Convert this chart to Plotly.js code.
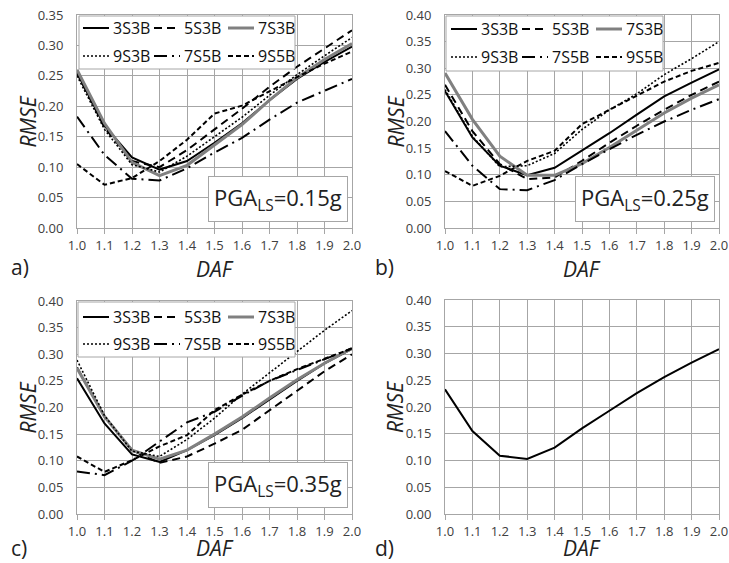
<!DOCTYPE html>
<html>
<head>
<meta charset="utf-8">
<script src="https://cdn.plot.ly/plotly-3.0.1.min.js"></script>
<style>html,body{margin:0;padding:0;background:#fff;}#chart{width:729px;height:563px;}</style>
</head>
<body>
<div id="chart"></div>
<script>
// ---------------- DATA ----------------
const daf = [1.0, 1.1, 1.2, 1.3, 1.4, 1.5, 1.6, 1.7, 1.8, 1.9, 2.0];
const xTickLabels = ['1.0','1.1','1.2','1.3','1.4','1.5','1.6','1.7','1.8','1.9','2.0'];
const seriesNames = ['3S3B', '5S3B', '7S3B', '9S3B', '7S5B', '9S5B'];
const panelLabels = ['a)', 'b)', 'c)', 'd)'];
const pgaLabels = ['PGA<sub>LS</sub>=0.15g', 'PGA<sub>LS</sub>=0.25g', 'PGA<sub>LS</sub>=0.35g'];

// a) PGA_LS = 0.15g
const a_3S3B = [0.255, 0.168, 0.116, 0.096, 0.110, 0.140, 0.172, 0.210, 0.245, 0.273, 0.298];
const a_5S3B = [0.255, 0.165, 0.110, 0.100, 0.128, 0.162, 0.196, 0.232, 0.265, 0.295, 0.325];
const a_7S3B = [0.260, 0.172, 0.108, 0.086, 0.103, 0.136, 0.170, 0.210, 0.247, 0.277, 0.303];
const a_9S3B = [0.250, 0.162, 0.104, 0.092, 0.118, 0.150, 0.182, 0.218, 0.252, 0.283, 0.313];
const a_7S5B = [0.183, 0.120, 0.081, 0.078, 0.098, 0.124, 0.148, 0.178, 0.206, 0.226, 0.245];
const a_9S5B = [0.105, 0.071, 0.082, 0.110, 0.145, 0.188, 0.201, 0.225, 0.248, 0.270, 0.290];

// b) PGA_LS = 0.25g
const b_3S3B = [0.257, 0.170, 0.117, 0.099, 0.113, 0.145, 0.178, 0.213, 0.247, 0.273, 0.298];
const b_5S3B = [0.269, 0.182, 0.120, 0.092, 0.095, 0.126, 0.160, 0.192, 0.222, 0.250, 0.275];
const b_7S3B = [0.291, 0.204, 0.135, 0.099, 0.099, 0.121, 0.151, 0.184, 0.216, 0.244, 0.269];
const b_9S3B = [0.260, 0.172, 0.115, 0.117, 0.140, 0.185, 0.222, 0.252, 0.288, 0.318, 0.350];
const b_7S5B = [0.182, 0.117, 0.073, 0.071, 0.090, 0.120, 0.148, 0.175, 0.200, 0.222, 0.242];
const b_9S5B = [0.107, 0.079, 0.098, 0.126, 0.145, 0.195, 0.222, 0.248, 0.275, 0.295, 0.310];

// c) PGA_LS = 0.35g
const c_3S3B = [0.255, 0.170, 0.112, 0.098, 0.120, 0.148, 0.180, 0.215, 0.250, 0.283, 0.310];
const c_5S3B = [0.275, 0.183, 0.120, 0.096, 0.108, 0.132, 0.158, 0.195, 0.232, 0.268, 0.300];
const c_7S3B = [0.274, 0.183, 0.120, 0.103, 0.120, 0.150, 0.182, 0.218, 0.252, 0.283, 0.311];
const c_9S3B = [0.289, 0.185, 0.118, 0.108, 0.140, 0.180, 0.225, 0.265, 0.306, 0.345, 0.382];
const c_7S5B = [0.080, 0.073, 0.100, 0.136, 0.172, 0.192, 0.222, 0.250, 0.270, 0.290, 0.311];
const c_9S5B = [0.108, 0.079, 0.101, 0.127, 0.148, 0.195, 0.224, 0.250, 0.272, 0.292, 0.311];

// d) overall
const d_all = [0.233, 0.155, 0.109, 0.103, 0.124, 0.160, 0.193, 0.226, 0.256, 0.283, 0.308];

// ---------------- STYLES ----------------
const W = 729, H = 563;
const FONT = 'Open Sans, sans-serif';
const GRID = '#a6a6a6';
const styles = [
  {color: '#000000', width: 2,   dash: 'solid'},
  {color: '#000000', width: 2,   dash: '8px,5px'},
  {color: '#808080', width: 3,   dash: 'solid'},
  {color: '#000000', width: 1.6, dash: '2px,2px'},
  {color: '#000000', width: 2,   dash: '13px,5px,2px,5px'},
  {color: '#000000', width: 2,   dash: '5px,3px'}
];

const panels = [
  {series: [a_3S3B, a_5S3B, a_7S3B, a_9S3B, a_7S5B, a_9S5B], x: 'x',  y: 'y'},
  {series: [b_3S3B, b_5S3B, b_7S3B, b_9S3B, b_7S5B, b_9S5B], x: 'x2', y: 'y2'},
  {series: [c_3S3B, c_5S3B, c_7S3B, c_9S3B, c_7S5B, c_9S5B], x: 'x3', y: 'y3'}
];

const px = v => v / W;
const py = v => 1 - v / H;

const traces = [];
panels.forEach((p, pi) => {
  p.series.forEach((vals, si) => {
    traces.push({
      x: daf, y: vals, name: seriesNames[si], type: 'scatter', mode: 'lines',
      xaxis: p.x, yaxis: p.y,
      line: {color: styles[si].color, width: styles[si].width, dash: styles[si].dash},
      showlegend: false, hoverinfo: 'skip'
    });
  });
});
traces.push({x: daf, y: d_all, name: 'all', type: 'scatter', mode: 'lines', xaxis: 'x4', yaxis: 'y4',
  line: {color: '#000', width: 2}, showlegend: false, hoverinfo: 'skip'});

// plot area pixel boxes [left, right, top, bottom]
const boxes = [[77, 352, 15, 228], [445, 719, 15, 228], [77, 352, 301, 514], [445, 719, 300, 514]];
const yMax = [0.35, 0.40, 0.40, 0.40];

function xax(bi) {
  const b = boxes[bi];
  return {
    domain: [px(b[0]), px(b[1])], range: [1, 2], tickvals: daf, ticktext: xTickLabels,
    showgrid: true, gridcolor: GRID, gridwidth: 1, zeroline: false,
    showline: true, linecolor: GRID, linewidth: 1, mirror: true,
    ticks: 'outside', ticklen: 5, tickcolor: GRID, tickwidth: 1,
    tickfont: {family: FONT, size: 13, color: '#404040'},
    anchor: ['y', 'y2', 'y3', 'y4'][bi], fixedrange: true
  };
}
function yax(bi) {
  const b = boxes[bi];
  return {
    domain: [py(b[3]), py(b[2])], range: [0, yMax[bi]], dtick: 0.05, tick0: 0, tickformat: '.2f',
    showgrid: true, gridcolor: GRID, gridwidth: 1, zeroline: false,
    showline: true, linecolor: GRID, linewidth: 1, mirror: true,
    ticks: '', ticklabelstandoff: 10,
    tickfont: {family: FONT, size: 13, color: '#404040'},
    anchor: ['x', 'x2', 'x3', 'x4'][bi], fixedrange: true
  };
}

const shapes = [];
const annotations = [];

// legend frames [left, right, top, bottom] in pixels, and row centres
const legendFrames = [[79, 295, 16, 69], [446, 663, 16, 71], [78, 295, 302, 357]];
const legendRows = [[28, 56], [29, 57], [317, 344]];
const sampleCols = [6, 77, 151];   // sample start, px from plot left
legendFrames.forEach((f, pi) => {
  shapes.push({type: 'rect', xref: 'paper', yref: 'paper',
    x0: px(f[0]), x1: px(f[1]), y0: py(f[3]), y1: py(f[2]),
    fillcolor: '#ffffff', line: {color: '#a6a6a6', width: 1}, layer: 'above'});
  seriesNames.forEach((name, si) => {
    const row = si < 3 ? 0 : 1, col = si % 3;
    const x0 = boxes[pi][0] + sampleCols[col], x1 = x0 + 26, yy = legendRows[pi][row];
    shapes.push({type: 'line', xref: 'paper', yref: 'paper', x0: px(x0), x1: px(x1), y0: py(yy), y1: py(yy),
      line: {color: styles[si].color, width: styles[si].width, dash: styles[si].dash}, layer: 'above'});
    annotations.push({xref: 'paper', yref: 'paper', x: px(x1 + 2), y: py(yy), xanchor: 'left', yanchor: 'middle',
      showarrow: false, text: name, font: {family: FONT, size: 16, color: '#111'}});
  });
});

// PGA boxes
[['x', 'y'], ['x2', 'y2'], ['x3', 'y3']].forEach((r, i) => {
  annotations.push({xref: r[0] + ' domain', yref: r[1] + ' domain', x: 0.985, y: 0.03,
    xanchor: 'right', yanchor: 'bottom', showarrow: false, text: pgaLabels[i],
    font: {family: FONT, size: 22, color: '#222'}, bgcolor: '#ffffff',
    bordercolor: '#a6a6a6', borderwidth: 1, borderpad: 5});
});
// axis titles
boxes.forEach((b, i) => {
  annotations.push({xref: 'paper', yref: 'paper', x: px(i % 2 === 0 ? 27 : 395), y: py((b[2] + b[3]) / 2),
    xanchor: 'center', yanchor: 'middle', textangle: -90, showarrow: false, text: 'RMSE',
    font: {family: FONT, size: 21, style: 'italic', color: '#222'}});
  annotations.push({xref: 'paper', yref: 'paper', x: px((b[0] + b[1]) / 2), y: i < 2 ? py(269) : py(562.5),
    xanchor: 'center', yanchor: i < 2 ? 'middle' : 'bottom', showarrow: false, text: 'DAF',
    borderpad: 0, font: {family: FONT, size: 21, style: 'italic', color: '#222'}});
});
// panel letters
const letterPos = [[9, 267], [373, 267], [9, 548], [373, 548]];
letterPos.forEach((p, i) => {
  annotations.push({xref: 'paper', yref: 'paper', x: px(p[0]), y: py(p[1]), xanchor: 'left', yanchor: 'middle',
    showarrow: false, text: panelLabels[i], font: {family: FONT, size: 21, color: '#222'}});
});

const layout = {
  width: W, height: H, margin: {l: 0, r: 0, t: 0, b: 0},
  paper_bgcolor: '#fff', plot_bgcolor: '#fff', showlegend: false,
  xaxis: xax(0), yaxis: yax(0), xaxis2: xax(1), yaxis2: yax(1),
  xaxis3: xax(2), yaxis3: yax(2), xaxis4: xax(3), yaxis4: yax(3),
  shapes: shapes, annotations: annotations
};

Plotly.newPlot('chart', traces, layout, {staticPlot: true, displayModeBar: false});
</script>
</body>
</html>
